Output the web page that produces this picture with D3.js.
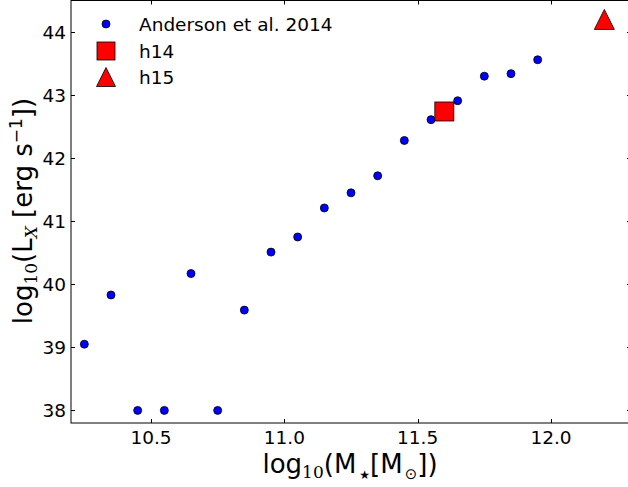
<!DOCTYPE html>
<html><head><meta charset="utf-8">
<script src="https://cdn.jsdelivr.net/npm/d3@7"></script>
<style>body{margin:0;background:#fff}svg{display:block}</style>
</head><body>
<svg id="c" width="628" height="487"></svg>
<script>
// Data
const andersonMass = [10.25,10.35,10.45,10.55,10.65,10.75,10.85,10.95,11.05,11.15,11.25,11.35,11.45,11.55,11.65,11.75,11.85,11.95];
const andersonLx   = [39.05,39.83,38.0,38.0,40.17,38.0,39.59,40.51,40.75,41.21,41.45,41.72,42.28,42.61,42.91,43.30,43.34,43.56];
const h14 = {mass:[11.6], lx:[42.74]};
const h15 = {mass:[12.2], lx:[44.2]};
const xTicks = [10.5,11.0,11.5,12.0];
const yTicks = [38,39,40,41,42,43,44];
const legendLabels = ["Anderson et al. 2014","h14","h15"];

const svg = d3.select("#c");
const L=71, R=631, T=0.5, B=423;
const x = d3.scaleLinear().domain([10.2,12.3]).range([L,R]);
const y = d3.scaleLinear().domain([37.8,44.5]).range([B,T]);
const font = "'DejaVu Sans', sans-serif";
const fs = 18.5;

// frame
svg.append("rect").attr("x",L).attr("y",T).attr("width",R-L).attr("height",B-T)
  .attr("fill","none").attr("stroke","#000").attr("stroke-width",1);

// ticks
const tk = svg.append("g").attr("stroke","#000").attr("stroke-width",1);
xTicks.forEach(v=>{
  const px=Math.round(x(v))+0.5;
  tk.append("line").attr("x1",px).attr("x2",px).attr("y1",B).attr("y2",B-4);
  tk.append("line").attr("x1",px).attr("x2",px).attr("y1",T).attr("y2",T+4);
});
yTicks.forEach(v=>{
  const py=Math.round(y(v))+0.5;
  tk.append("line").attr("x1",L).attr("x2",L+4).attr("y1",py).attr("y2",py);
  tk.append("line").attr("x1",R).attr("x2",R-4).attr("y1",py).attr("y2",py);
});
svg.append("g").selectAll("text").data(xTicks).join("text")
  .attr("x",d=>x(d)).attr("y",444).attr("text-anchor","middle")
  .attr("font-family",font).attr("font-size",fs).text(d=>d3.format(".1f")(d));
svg.append("g").selectAll("text").data(yTicks).join("text")
  .attr("x",66).attr("y",d=>y(d)).attr("dy","0.36em").attr("text-anchor","end")
  .attr("font-family",font).attr("font-size",fs).text(d=>d);

// data
svg.append("g").selectAll("circle").data(andersonMass).join("circle")
  .attr("cx",d=>x(d)).attr("cy",(d,i)=>y(andersonLx[i])).attr("r",4)
  .attr("fill","#0000ff").attr("stroke","#000").attr("stroke-width",0.8);
const sq=19;
svg.append("g").selectAll("rect").data(h14.mass).join("rect")
  .attr("x",d=>x(d)-sq/2).attr("y",(d,i)=>y(h14.lx[i])-sq/2).attr("width",sq).attr("height",sq)
  .attr("fill","#ff0000").attr("stroke","#000").attr("stroke-width",0.8);
const tri = (cx,cy,s)=>`M${cx},${cy-s/2}L${cx+s/2},${cy+s/2}L${cx-s/2},${cy+s/2}Z`;
svg.append("g").selectAll("path").data(h15.mass).join("path")
  .attr("d",(d,i)=>tri(x(d),y(h15.lx[i]),20))
  .attr("fill","#ff0000").attr("stroke","#000").attr("stroke-width",0.8);

// legend
const lg = svg.append("g");
const ly=[24,51,77];
lg.append("circle").attr("cx",106).attr("cy",ly[0]).attr("r",4)
  .attr("fill","#0000ff").attr("stroke","#000").attr("stroke-width",0.8);
lg.append("rect").attr("x",106-9).attr("y",ly[1]-9).attr("width",18).attr("height",18)
  .attr("fill","#ff0000").attr("stroke","#000").attr("stroke-width",0.8);
lg.append("path").attr("d",tri(106,ly[2],19))
  .attr("fill","#ff0000").attr("stroke","#000").attr("stroke-width",0.8);
legendLabels.forEach((t,i)=>{
  lg.append("text").attr("x",139).attr("y",ly[i]).attr("dy","0.36em")
    .attr("font-family",font).attr("font-size",fs).text(t);
});

// axis labels
const lfs=26, serif="'DejaVu Serif', serif";
const xl = svg.append("text").attr("x",350).attr("y",473).attr("text-anchor","middle")
  .attr("font-family",font).attr("font-size",lfs);
xl.append("tspan").text("log");
xl.append("tspan").attr("font-family",serif).attr("font-size",17).attr("dy",5).text("10");
xl.append("tspan").attr("dy",-5).text("(M");
xl.append("tspan").attr("font-size",12).attr("dx",3).attr("dy",6).text("★");
xl.append("tspan").attr("dy",-6).text("[M");
xl.append("tspan").attr("font-size",15).attr("dx",2).attr("dy",6).text("⊙");
xl.append("tspan").attr("dy",-6).text("])");

const yl = svg.append("text").attr("transform","translate(32,211) rotate(-90)")
  .attr("text-anchor","middle").attr("font-family",font).attr("font-size",lfs);
yl.append("tspan").text("log");
yl.append("tspan").attr("font-family",serif).attr("font-size",17).attr("dy",5).text("10");
yl.append("tspan").attr("dy",-5).text("(L");
yl.append("tspan").attr("font-family",serif).attr("font-style","italic").attr("font-size",17).attr("dy",5).text("X");
yl.append("tspan").attr("dy",-5).text(" [erg s");
yl.append("tspan").attr("font-size",17).attr("dy",-10).text("−1");
yl.append("tspan").attr("dy",10).text("])");
</script>
</body></html>
